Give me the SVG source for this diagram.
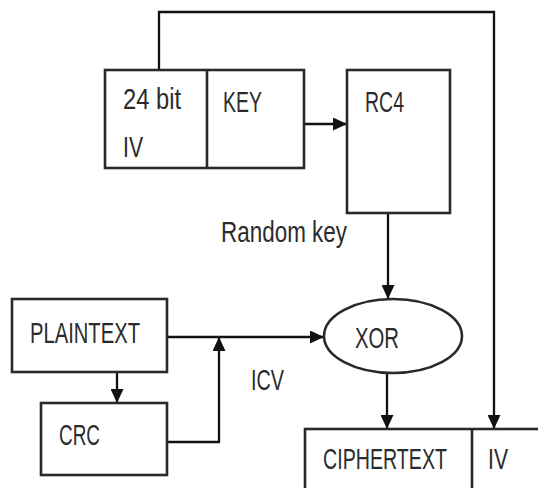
<svg xmlns="http://www.w3.org/2000/svg" width="538" height="488" viewBox="0 0 538 488">
<defs>
<style>
.box{fill:#fff;stroke:#2a2a2a;stroke-width:2.6}
.ln{fill:none;stroke:#111;stroke-width:2.3}
.t{font-family:"Liberation Sans",Arial,sans-serif;font-size:29px;fill:#2b2b2b}
</style>
<marker id="ah" markerUnits="userSpaceOnUse" markerWidth="14" markerHeight="13" refX="14" refY="6.5" orient="auto">
<path d="M0,0 L14,6.5 L0,13 z" fill="#111"/>
</marker>
</defs>
<rect width="538" height="488" fill="#fff"/>
<g id="connectors">
<path class="ln" d="M159,70 V12 H494 V429" marker-end="url(#ah)"/>
<path class="ln" d="M304,124 H347" marker-end="url(#ah)"/>
<path class="ln" d="M388,213 V299" marker-end="url(#ah)"/>
<path class="ln" d="M167,337 H324" marker-end="url(#ah)"/>
<path class="ln" d="M167,442 H219 V337" marker-end="url(#ah)"/>
<path class="ln" d="M117,372 V403" marker-end="url(#ah)"/>
<path class="ln" d="M387,373 V429" marker-end="url(#ah)"/>
</g>
<g id="ivkey">
<rect class="box" x="105" y="70" width="199" height="98"/>
<line class="box" x1="207" y1="70" x2="207" y2="168"/>
<text class="t" x="123" y="109" textLength="58" lengthAdjust="spacingAndGlyphs">24 bit</text>
<text class="t" x="123" y="157" textLength="20" lengthAdjust="spacingAndGlyphs">IV</text>
<text class="t" x="223" y="112" textLength="39" lengthAdjust="spacingAndGlyphs">KEY</text>
</g>
<g id="rc4">
<rect class="box" x="347" y="70" width="103" height="143"/>
<text class="t" x="365" y="112" textLength="39" lengthAdjust="spacingAndGlyphs">RC4</text>
</g>
<g id="randomkey-label">
<text class="t" x="221" y="242" textLength="126" lengthAdjust="spacingAndGlyphs">Random key</text>
</g>
<g id="xor">
<ellipse class="box" cx="393" cy="336" rx="69" ry="37"/>
<text class="t" x="355" y="348" textLength="44" lengthAdjust="spacingAndGlyphs">XOR</text>
</g>
<g id="plaintext">
<rect class="box" x="12" y="299" width="155" height="73"/>
<text class="t" x="30" y="343" textLength="110" lengthAdjust="spacingAndGlyphs">PLAINTEXT</text>
</g>
<g id="crc">
<rect class="box" x="41" y="403" width="126" height="72"/>
<text class="t" x="59" y="445" textLength="41" lengthAdjust="spacingAndGlyphs">CRC</text>
</g>
<g id="icv-label">
<text class="t" x="251" y="390" textLength="33" lengthAdjust="spacingAndGlyphs">ICV</text>
</g>
<g id="ciphertext">
<rect class="box" x="305" y="429" width="245" height="70"/>
<line class="box" x1="472" y1="429" x2="472" y2="499"/>
<text class="t" transform="translate(323,469) scale(1,1.21)" style="font-size:24px" x="0" y="0" textLength="124" lengthAdjust="spacingAndGlyphs">CIPHERTEXT</text>
<text class="t" x="488" y="469" textLength="20" lengthAdjust="spacingAndGlyphs">IV</text>
</g>
</svg>
